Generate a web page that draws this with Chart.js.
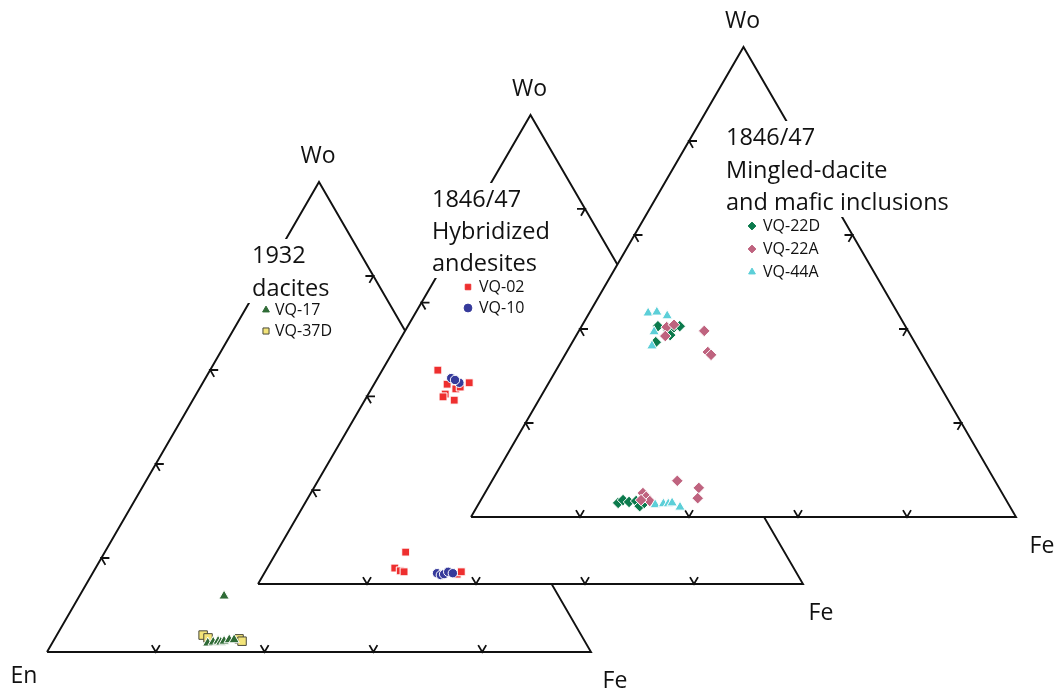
<!DOCTYPE html>
<html>
<head>
<meta charset="utf-8">
<script src="https://cdn.jsdelivr.net/npm/chart.js@4.4.1/dist/chart.umd.min.js"></script>
<style>
  html, body { margin: 0; padding: 0; background: #fff; }
  canvas { display: block; }
</style>
</head>
<body>
<canvas id="c" width="1057" height="692"></canvas>
<script>
// Pyroxene compositions, mol % as [Wo, En, Fs]

// 1932 dacites
const vq17 = [
  [11.9, 61.5, 26.6], [1.9, 69.5, 28.6], [2.1, 68.4, 29.5], [2.3, 67.4, 30.3],
  [2.1, 67.0, 30.9], [2.3, 66.3, 31.4], [2.6, 65.2, 32.2], [2.6, 64.3, 33.1]
];
const vq37d = [
  [3.6, 69.5, 26.9], [3.0, 68.9, 28.1], [2.8, 63.3, 33.9], [2.3, 63.0, 34.7]
];

// 1846/47 hybridized andesites
const vq02 = [
  [45.6, 44.2, 10.2], [42.9, 39.8, 17.3], [42.6, 44.0, 13.4], [41.6, 42.9, 15.5],
  [40.5, 45.4, 14.1], [39.9, 46.1, 14.0], [39.2, 44.4, 16.4], [42.0, 41.9, 16.1],
  [6.8, 69.5, 23.7], [3.4, 73.2, 23.4], [2.8, 72.5, 24.7], [2.6, 71.9, 25.5],
  [2.1, 62.4, 35.5], [2.6, 61.4, 36.0]
];
const vq10 = [
  [43.9, 42.6, 13.5], [42.9, 41.6, 15.5], [43.5, 42.1, 14.4],
  [2.3, 66.0, 31.7], [1.9, 65.5, 32.6], [2.1, 64.8, 33.1], [2.6, 63.8, 33.6], [2.3, 63.1, 34.6]
];

// 1846/47 mingled dacite and mafic inclusions
const vq22d = [
  [40.6, 45.4, 14.0], [39.8, 43.9, 16.3], [40.2, 42.8, 17.0], [40.6, 41.4, 18.0],
  [38.7, 44.1, 17.2], [37.2, 47.5, 15.3],
  [3.0, 71.5, 25.5], [3.6, 70.3, 26.1], [3.2, 69.4, 27.4], [3.4, 68.0, 28.6],
  [2.3, 67.9, 29.8], [3.0, 66.7, 30.3]
];
const vq22a = [
  [40.4, 43.9, 15.7], [40.9, 42.3, 16.8], [38.5, 45.1, 16.4], [39.6, 37.4, 23.0],
  [35.1, 39.0, 25.9], [34.5, 38.7, 26.8],
  [5.1, 65.9, 29.0], [4.3, 65.7, 30.0], [3.4, 65.5, 31.1], [3.6, 67.0, 29.4],
  [7.7, 58.3, 34.0], [6.2, 55.1, 38.7], [4.0, 56.4, 39.6]
];
const vq44a = [
  [43.4, 45.8, 10.8], [43.6, 44.1, 12.3], [42.8, 42.6, 14.6], [39.4, 46.7, 13.9], [36.4, 48.6, 15.0],
  [2.6, 64.9, 32.5], [2.8, 63.3, 33.9], [2.8, 62.4, 34.8], [3.0, 61.6, 35.4], [2.1, 60.6, 37.3]
];

// Axis ticks, as fractions along each edge
const tickFractions = [0.2, 0.4, 0.6, 0.8];

// End-member labels
const apexLabel = 'Wo';
const leftLabel = 'En';
const rightLabel = 'Fe';

// Panel titles
const title1932 = ['1932', 'dacites'];
const titleHybrid = ['1846/47', 'Hybridized', 'andesites'];
const titleMingled = ['1846/47', 'Mingled-dacite', 'and mafic inclusions'];

const FONT = '"Open Sans", "Noto Sans", sans-serif';

// Series styling
const styles = {
  'VQ-17':  { pointStyle: 'triangle', radius: 6.0, fill: '#2f6b36', stroke: '#ffffff' },
  'VQ-37D': { pointStyle: 'rect',     radius: 6.0, fill: '#f3e479', stroke: '#4a4a3a' },
  'VQ-02':  { pointStyle: 'rect',     radius: 5.6, fill: '#ee2f2f', stroke: '#ffffff' },
  'VQ-10':  { pointStyle: 'circle',   radius: 4.7, fill: '#363a9b', stroke: '#ffffff' },
  'VQ-22D': { pointStyle: 'rectRot',  radius: 5.8, fill: '#0b7a4c', stroke: '#ffffff' },
  'VQ-22A': { pointStyle: 'rectRot',  radius: 5.8, fill: '#bf637f', stroke: '#ffffff' },
  'VQ-44A': { pointStyle: 'triangle', radius: 6.0, fill: '#5ccfd8', stroke: '#ffffff' }
};

// Three overlapping diagrams, back to front
const panels = [
  {
    left: 47, base: 652, width: 544, height: 470,
    title: title1932, titleX: 252, titleY: 263, lineH: 33,
    series: [['VQ-37D', vq37d], ['VQ-17', vq17]],
    legend: ['VQ-17', 'VQ-37D'], legendX: 266, legendY: 310, legendStep: 21, legendTextX: 275,
    showLeft: true, rightOff: [24, 36]
  },
  {
    left: 258, base: 584, width: 545, height: 469,
    title: titleHybrid, titleX: 432, titleY: 207, lineH: 32,
    series: [['VQ-02', vq02], ['VQ-10', vq10]],
    legend: ['VQ-02', 'VQ-10'], legendX: 468, legendY: 287, legendStep: 21, legendTextX: 479,
    showLeft: false, rightOff: [18, 36]
  },
  {
    left: 471, base: 517, width: 545, height: 470,
    title: titleMingled, titleX: 726, titleY: 145, lineH: 32.5,
    series: [['VQ-22D', vq22d], ['VQ-22A', vq22a], ['VQ-44A', vq44a]],
    legend: ['VQ-22D', 'VQ-22A', 'VQ-44A'], legendX: 752, legendY: 226, legendStep: 23, legendTextX: 763,
    showLeft: false, rightOff: [26, 36]
  }
];

function vertices(p) {
  return {
    L: { x: p.left, y: p.base },
    R: { x: p.left + p.width, y: p.base },
    A: { x: p.left + p.width / 2, y: p.base - p.height }
  };
}

// Ternary [Wo, En, Fs] -> plane coordinates of a panel
function toXY(p, c) {
  const s = c[0] + c[1] + c[2];
  const wo = c[0] / s, fs = c[2] / s;
  return { x: p.left + p.width * fs + (p.width / 2) * wo, y: p.base - p.height * wo };
}

function unit(a, b) {
  const dx = b.x - a.x, dy = b.y - a.y, d = Math.hypot(dx, dy);
  return { x: dx / d, y: dy / d };
}

// Chevron ticks: vertex on the edge, arms parallel to the other two edges
function tickPath(p) {
  const { L, R, A } = vertices(p);
  const arm = 8;
  const out = [];
  const edges = [
    [L, R, unit(L, A), unit(R, A)],
    [L, A, unit(L, R), unit(A, R)],
    [R, A, unit(R, L), unit(A, L)]
  ];
  edges.forEach(([P0, P1, u1, u2]) => {
    tickFractions.forEach(f => {
      const v = { x: P0.x + (P1.x - P0.x) * f, y: P0.y + (P1.y - P0.y) * f };
      out.push({ x: v.x + u1.x * arm, y: v.y + u1.y * arm });
      out.push({ x: v.x, y: v.y });
      out.push({ x: v.x + u2.x * arm, y: v.y + u2.y * arm });
      out.push({ x: null, y: null });
    });
  });
  return out;
}

const datasets = [];
panels.forEach(p => {
  const { L, R, A } = vertices(p);
  datasets.push({
    type: 'line',
    data: [L, R, A, L],
    borderColor: '#111',
    borderWidth: 1.9,
    borderJoinStyle: 'miter',
    backgroundColor: '#ffffff',
    fill: 'shape',
    pointRadius: 0,
    tension: 0
  });
  datasets.push({
    type: 'line',
    data: tickPath(p),
    borderColor: '#111',
    borderWidth: 1.8,
    fill: false,
    spanGaps: false,
    pointRadius: 0,
    tension: 0
  });
  p.series.forEach(([name, rows]) => {
    const st = styles[name];
    datasets.push({
      type: 'scatter',
      label: name,
      data: rows.map(c => toXY(p, c)),
      pointStyle: st.pointStyle,
      pointRadius: st.radius,
      backgroundColor: st.fill,
      borderColor: st.stroke,
      borderWidth: 1
    });
  });
});
// first in the list is painted first, later ones on top
datasets.forEach((d, i) => { d.order = datasets.length - i; });

const annotate = {
  id: 'annotate',
  afterDatasetsDraw(chart) {
    const ctx = chart.ctx;
    const px = v => chart.scales.x.getPixelForValue(v);
    const py = v => chart.scales.y.getPixelForValue(v);
    ctx.save();
    panels.forEach(p => {
      const { L, R, A } = vertices(p);
      ctx.fillStyle = '#111';
      ctx.font = `23px ${FONT}`;
      ctx.textAlign = 'center';
      ctx.textBaseline = 'alphabetic';
      ctx.fillText(apexLabel, px(A.x - 1), py(A.y - 19));
      ctx.fillText(rightLabel, px(R.x + p.rightOff[0]), py(R.y + p.rightOff[1]));
      if (p.showLeft) ctx.fillText(leftLabel, px(L.x - 23), py(L.y + 31));

      // title block on a white ground
      ctx.font = `23.5px ${FONT}`;
      ctx.textAlign = 'left';
      const w = Math.max(...p.title.map(t => ctx.measureText(t).width));
      const n = p.title.length;
      ctx.fillStyle = '#ffffff';
      ctx.fillRect(px(p.titleX - 5), py(p.titleY - 24), w + 10, (n - 1) * p.lineH + 31);
      ctx.fillStyle = '#111';
      p.title.forEach((t, k) => ctx.fillText(t, px(p.titleX), py(p.titleY + k * p.lineH)));

      // legend
      ctx.font = `16px ${FONT}`;
      ctx.textBaseline = 'middle';
      p.legend.forEach((name, k) => {
        const st = styles[name];
        const y = p.legendY + k * p.legendStep;
        ctx.fillStyle = st.fill;
        ctx.strokeStyle = name === 'VQ-37D' ? st.stroke : st.fill;
        ctx.lineWidth = 1;
        Chart.helpers.drawPoint(ctx, {
          pointStyle: st.pointStyle,
          radius: name === 'VQ-37D' ? 4.3 : 3.9,
          rotation: 0,
          borderWidth: 1
        }, px(p.legendX), py(y));
        ctx.fillStyle = '#111';
        ctx.fillText(name, px(p.legendTextX), py(y + 0.5));
      });
    });
    ctx.restore();
  }
};

new Chart(document.getElementById('c'), {
  type: 'scatter',
  data: { datasets },
  options: {
    responsive: false,
    animation: false,
    devicePixelRatio: 1,
    events: [],
    layout: { padding: 0, autoPadding: false },
    scales: {
      x: { type: 'linear', min: 0, max: 1057, display: false },
      y: { type: 'linear', min: 0, max: 692, reverse: true, display: false }
    },
    plugins: { legend: { display: false }, tooltip: { enabled: false } }
  },
  plugins: [annotate]
});
</script>
</body>
</html>
